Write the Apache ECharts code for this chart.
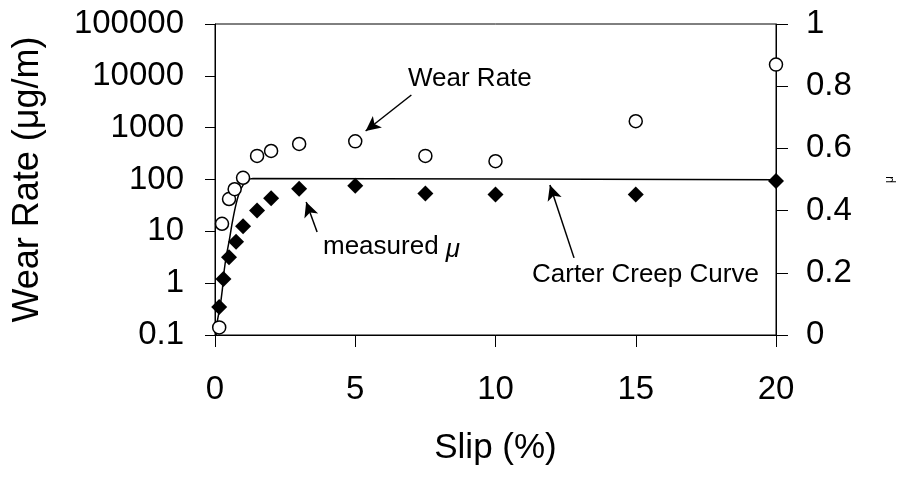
<!DOCTYPE html>
<html>
<head>
<meta charset="utf-8">
<title>Wear rate vs slip</title>
<script src="https://cdn.jsdelivr.net/npm/echarts@6/dist/echarts.min.js"></script>
<style>
  html, body { margin: 0; padding: 0; background: #fff; }
  #chart { width: 904px; height: 480px; }
</style>
</head>
<body>
<div id="chart"></div>
<script>
  // slip (%) where wear rate / friction were measured
  const wearSlip = [0.15, 0.25, 0.5, 0.7, 1, 1.5, 2, 3, 5, 7.5, 10, 15, 20];
  const wearRate = [0.14, 14, 42, 65, 108, 285, 355, 485, 545, 285, 225, 1330, 16500];

  const muSlip = [0.15, 0.3, 0.5, 0.75, 1, 1.5, 2, 3, 5, 7.5, 10, 15, 20];
  const muMeasured = [0.09, 0.18, 0.25, 0.30, 0.35, 0.40, 0.44, 0.47, 0.48, 0.455, 0.452, 0.452, 0.495];

  // Carter creep curve
  const creepSlip = [0.04, 0.09, 0.18, 0.26, 0.33, 0.41, 0.51, 0.61, 0.73, 0.86, 1.0, 1.18, 1.35, 20];
  const creepMu = [0, 0.048, 0.091, 0.145, 0.209, 0.257, 0.305, 0.359, 0.413, 0.456, 0.482, 0.498, 0.503, 0.499];

  const leftTickLabels = ['0.1', '1', '10', '100', '1000', '10000', '100000'];
  const rightTickLabels = ['0', '0.2', '0.4', '0.6', '0.8', '1'];
  const xTickLabels = ['0', '5', '10', '15', '20'];

  const FONT = 'Liberation Sans, Arial, sans-serif';
  const arrowLine = { color: '#000', width: 1.5, type: 'solid' };

  let chart = echarts.init(document.getElementById('chart'));
  const option = {
    backgroundColor: '#fff',
    animation: false,
    textStyle: { fontFamily: FONT, color: '#000' },
    grid: {
      left: 215, right: 123, top: 24, bottom: 145,
      show: true, borderColor: '#000', borderWidth: 1, backgroundColor: 'transparent'
    },
    xAxis: {
      type: 'value', min: 0, max: 20, interval: 5,
      name: 'Slip (%)', nameLocation: 'middle', nameGap: 96,
      nameTextStyle: { fontSize: 35, fontFamily: FONT, color: '#000' },
      axisLine: { onZero: false, lineStyle: { color: '#000', width: 1 } },
      axisTick: { inside: false, length: 12, lineStyle: { color: '#000' } },
      axisLabel: {
        fontSize: 33, color: '#000', margin: 38, fontFamily: FONT,
        formatter: v => xTickLabels[Math.round(v / 5)]
      },
      splitLine: { show: false }
    },
    yAxis: [
      {
        type: 'log', logBase: 10, min: 0.1, max: 100000, position: 'left',
        name: 'Wear Rate (μg/m)', nameLocation: 'middle', nameGap: 169, nameRotate: 90,
        nameTextStyle: { fontSize: 36, fontFamily: FONT, color: '#000' },
        axisLine: { show: true, lineStyle: { color: '#000', width: 1 } },
        axisTick: { length: 10, lineStyle: { color: '#000' } },
        minorTick: { show: false },
        axisLabel: {
          fontSize: 33, color: '#000', margin: 31, fontFamily: FONT,
          formatter: v => leftTickLabels[Math.round(Math.log10(v)) + 1]
        },
        splitLine: { show: false }
      },
      {
        type: 'value', min: 0, max: 1, interval: 0.2, position: 'right',
        name: 'μ', nameLocation: 'middle', nameGap: 108, nameRotate: 90,
        nameTextStyle: { fontSize: 12, fontFamily: FONT, color: '#000' },
        axisLine: { show: true, lineStyle: { color: '#000', width: 1 } },
        axisTick: { length: 12, lineStyle: { color: '#000' } },
        axisLabel: {
          fontSize: 33, color: '#000', margin: 30, fontFamily: FONT,
          formatter: v => rightTickLabels[Math.round(v * 5)]
        },
        splitLine: { show: false }
      }
    ],
    series: [
      {
        name: 'Carter Creep Curve',
        type: 'line',
        yAxisIndex: 1,
        showSymbol: false,
        smooth: 0.2,
        lineStyle: { color: '#000', width: 1.5 },
        data: creepSlip.map((x, i) => [x, creepMu[i]]),
        markLine: {
          silent: true, symbol: ['none', 'arrow'], symbolSize: [11, 15],
          label: { show: false }, lineStyle: arrowLine,
          data: [[{ coord: [12.8, 0.248] }, { coord: [11.94, 0.482] }]]
        },
        z: 2
      },
      {
        name: 'measured μ',
        type: 'scatter',
        yAxisIndex: 1,
        symbol: 'diamond',
        symbolSize: [16, 16],
        itemStyle: { color: '#000', opacity: 1 },
        data: muSlip.map((x, i) => [x, muMeasured[i]]),
        markLine: {
          silent: true, symbol: ['none', 'arrow'], symbolSize: [11, 15],
          label: { show: false }, lineStyle: arrowLine,
          data: [[{ coord: [3.64, 0.331] }, { coord: [3.25, 0.428] }]]
        },
        z: 3
      },
      {
        name: 'Wear Rate',
        type: 'scatter',
        yAxisIndex: 0,
        symbol: 'circle',
        symbolSize: 13,
        itemStyle: { color: '#fff', borderColor: '#000', borderWidth: 1.5, opacity: 1 },
        data: wearSlip.map((x, i) => [x, wearRate[i]]),
        markLine: {
          silent: true, symbol: ['none', 'arrow'], symbolSize: [11, 15],
          label: { show: false }, lineStyle: arrowLine,
          data: [[{ coord: [7.0, 4270] }, { coord: [5.37, 863] }]]
        },
        z: 4
      }
    ],
    graphic: [
      {
        type: 'text', left: 408, top: 66,
        style: { text: 'Wear Rate', font: '26px ' + FONT, fill: '#000' }
      },
      {
        type: 'text', left: 323, top: 234,
        style: {
          text: 'measured {mu|μ}', font: '26px ' + FONT, fill: '#000',
          rich: { mu: { fontStyle: 'italic', fontSize: 26, fontFamily: FONT, padding: [6, 0, 0, 0] } }
        }
      },
      {
        type: 'text', left: 532, top: 262,
        style: { text: 'Carter Creep Curve', font: '26px ' + FONT, fill: '#000' }
      }
    ]
  };
  chart.setOption(option);
  window.addEventListener('resize', function () {
    chart.resize();
  });
</script>
</body>
</html>
